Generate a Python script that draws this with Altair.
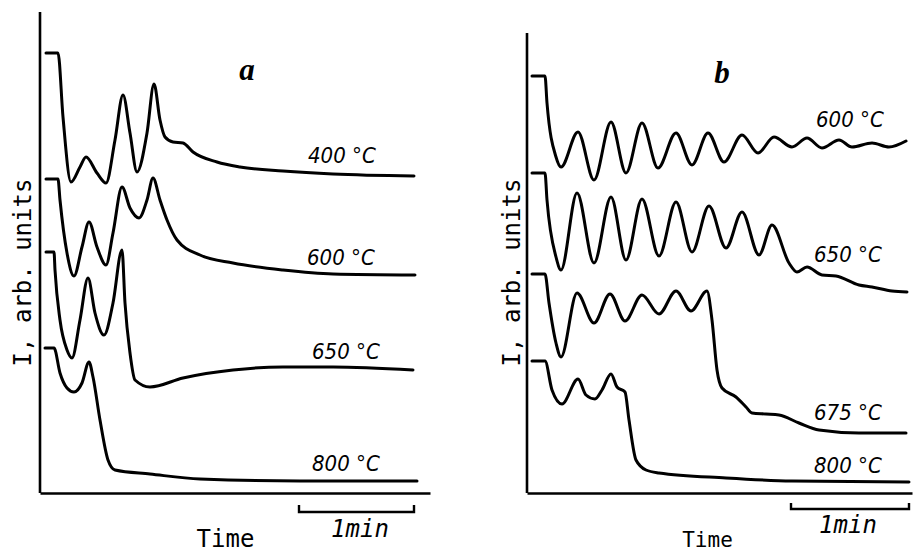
import altair as alt
import pandas as pd

# ---------------- Panel a (time and intensity in arbitrary units) ----------------
a_400_t = [6, 18, 23, 31, 40, 46, 57, 66, 75, 83, 90, 97, 107, 114, 120, 125, 133, 143, 153, 177, 200, 243, 293, 374]
a_400_i = [440, 440, 376, 311, 326, 336, 320, 310, 353, 398, 360, 321, 360, 409, 373, 356, 351, 350, 341, 331, 326, 322, 319, 317]

a_600_t = [6, 18, 20, 27, 34, 42, 49, 57, 66, 73, 82, 90, 99, 107, 113, 120, 127, 137, 160, 193, 243, 293, 375]
a_600_i = [314, 314, 293, 240, 217, 246, 271, 246, 228, 260, 306, 285, 275, 293, 315, 293, 273, 253, 238, 230, 223, 219, 218]

a_650_t = [6, 14, 15, 20, 27, 32, 40, 48, 55, 64, 73, 82, 85, 90, 95, 110, 143, 193, 243, 293, 373]
a_650_i = [241, 241, 223, 173, 143, 135, 173, 215, 180, 158, 190, 243, 190, 140, 113, 106, 115, 123, 126, 126, 123]

a_800_t = [5, 14, 20, 27, 34, 42, 49, 53, 60, 68, 75, 110, 160, 260, 377]
a_800_i = [145, 145, 120, 105, 101, 110, 131, 116, 73, 33, 23, 19, 14, 12, 12]

a_labels = ["400 °C", "600 °C", "650 °C", "800 °C"]
a_label_t = [268, 267, 272, 272]
a_label_i = [330, 228, 134, 22]

# ---------------- Panel b ----------------
b_600_t = [5, 18, 20, 29, 34, 51, 67, 84, 99, 115, 131, 149, 165, 181, 197, 215, 231, 247, 265, 280, 295, 312, 325, 345, 362, 379]
b_600_i = [417, 417, 390, 336, 326, 361, 313, 371, 320, 370, 325, 360, 328, 360, 331, 358, 340, 356, 346, 355, 345, 353, 346, 350, 346, 352]

b_650_t = [5, 18, 20, 29, 34, 50, 67, 84, 99, 115, 132, 149, 165, 182, 199, 215, 232, 245, 262, 270, 280, 295, 309, 332, 345, 365, 380]
b_650_i = [320, 320, 293, 236, 223, 300, 230, 296, 233, 294, 237, 291, 241, 287, 245, 281, 238, 268, 230, 221, 226, 218, 217, 208, 206, 202, 201]

b_675_t = [5, 18, 22, 29, 34, 50, 67, 83, 98, 115, 132, 149, 164, 180, 185, 190, 195, 209, 219, 225, 239, 252, 272, 292, 332, 379]
b_675_i = [219, 219, 190, 150, 136, 200, 170, 199, 172, 198, 179, 202, 182, 202, 173, 123, 105, 96, 86, 80, 79, 78, 70, 63, 60, 60]

b_800_t = [5, 18, 25, 35, 51, 59, 68, 75, 84, 90, 98, 102, 109, 119, 132, 199, 265, 382]
b_800_i = [132, 132, 103, 89, 114, 98, 94, 103, 119, 106, 101, 73, 33, 23, 20, 15, 12, 11]

b_labels = ["600 °C", "650 °C", "675 °C", "800 °C"]
b_label_t = [289, 287, 287, 287]
b_label_i = [366, 231, 73, 20]

# scale bars (1 min)
a_bar_t = [259, 259, 374, 374]
a_bar_i = [-12, -19, -19, -12]
b_bar_t = [264, 264, 382, 382]
b_bar_i = [-10, -16, -16, -10]

LINE_W = 3.0
TEMP_FONT = "DejaVu Sans Condensed, DejaVu Sans, sans-serif"
MONO = "DejaVu Sans Mono"


def curves_df(series):
    rows = []
    for name, ts, vs in series:
        for k, (t, v) in enumerate(zip(ts, vs)):
            rows.append({"t": t, "I": v, "series": name, "k": k})
    return pd.DataFrame(rows)


def make_panel(series, labels, lab_t, lab_i, bar_t, bar_i, letter, letter_t, letter_i,
               width, height, axis_top, min_t, min_i, x_title_x, x_title_y, x_title_size,
               y_title_pad, y_title_y):
    xs = alt.Scale(domain=[0, width], nice=False, zero=False)
    ys = alt.Scale(domain=[0, height], nice=False, zero=False)

    curves = alt.Chart(curves_df(series)).mark_line(
        color="black", strokeWidth=LINE_W, interpolate="monotone",
        strokeCap="round", strokeJoin="round"
    ).encode(
        x=alt.X("t:Q", scale=xs, axis=alt.Axis(
            title="Time", domain=True, ticks=False, labels=False, grid=False,
            titleX=x_title_x, titleY=x_title_y, titleBaseline="alphabetic",
            titleFont=MONO, titleFontSize=x_title_size, titleFontWeight="normal",
            titleColor="black")),
        y=alt.Y("I:Q", scale=ys, axis=alt.Axis(
            title="I, arb. units", domain=False, ticks=False, labels=False, grid=False,
            titlePadding=y_title_pad, titleY=y_title_y,
            titleFont=MONO, titleFontSize=24, titleFontWeight="normal",
            titleColor="black")),
        detail="series:N",
        order="k:Q",
    )

    yaxis = alt.Chart(pd.DataFrame({"t": [0], "I": [axis_top], "I2": [0]})).mark_rule(
        color="black", strokeWidth=2.6
    ).encode(x="t:Q", y="I:Q", y2="I2:Q")

    bar = alt.Chart(pd.DataFrame({"t": bar_t, "I": bar_i, "k": [0, 1, 2, 3]})).mark_line(
        color="black", strokeWidth=2.4, strokeJoin="miter"
    ).encode(x="t:Q", y="I:Q", order="k:Q")

    bar_text = alt.Chart(pd.DataFrame({"t": [min_t], "I": [min_i], "txt": ["1min"]})).mark_text(
        font=MONO, fontSize=24, fontStyle="italic", align="center", baseline="alphabetic",
        color="black"
    ).encode(x="t:Q", y="I:Q", text="txt:N")

    lab = alt.Chart(pd.DataFrame({"t": lab_t, "I": lab_i, "txt": labels})).mark_text(
        font=TEMP_FONT, fontSize=22, fontStyle="italic", align="left", baseline="alphabetic",
        color="black"
    ).encode(x="t:Q", y="I:Q", text="txt:N")

    let = alt.Chart(pd.DataFrame({"t": [letter_t], "I": [letter_i], "txt": [letter]})).mark_text(
        font="Liberation Serif", fontSize=31, fontStyle="italic", fontWeight="bold",
        align="center", baseline="alphabetic", color="black"
    ).encode(x="t:Q", y="I:Q", text="txt:N")

    return alt.layer(curves, yaxis, bar, bar_text, lab, let).properties(width=width, height=height)


# plot area: 485 high (its top edge is invisible); x axis line at the bottom
panel_a = make_panel(
    [("400", a_400_t, a_400_i), ("600", a_600_t, a_600_i),
     ("650", a_650_t, a_650_i), ("800", a_800_t, a_800_i)],
    a_labels, a_label_t, a_label_i, a_bar_t, a_bar_i,
    "a", 207, 413, 390, 485, 481, 320, -44, 185, 53, 24, 5, 264)

panel_b = make_panel(
    [("600", b_600_t, b_600_i), ("650", b_650_t, b_650_i),
     ("675", b_675_t, b_675_i), ("800", b_800_t, b_800_i)],
    b_labels, b_label_t, b_label_i, b_bar_t, b_bar_i,
    "b", 195, 410, 385, 485, 460, 321, -40, 180, 53, 21, 3, 264)

chart = alt.hconcat(panel_a, panel_b, spacing=70).properties(
    padding={"left": 3, "top": 0, "right": 0, "bottom": 0},
    background="white",
).configure_view(strokeWidth=0, stroke="transparent").configure_axis(
    domainColor="black", domainWidth=2.6
)

chart.save("out.html", embed_options={"renderer": "svg", "actions": False})
